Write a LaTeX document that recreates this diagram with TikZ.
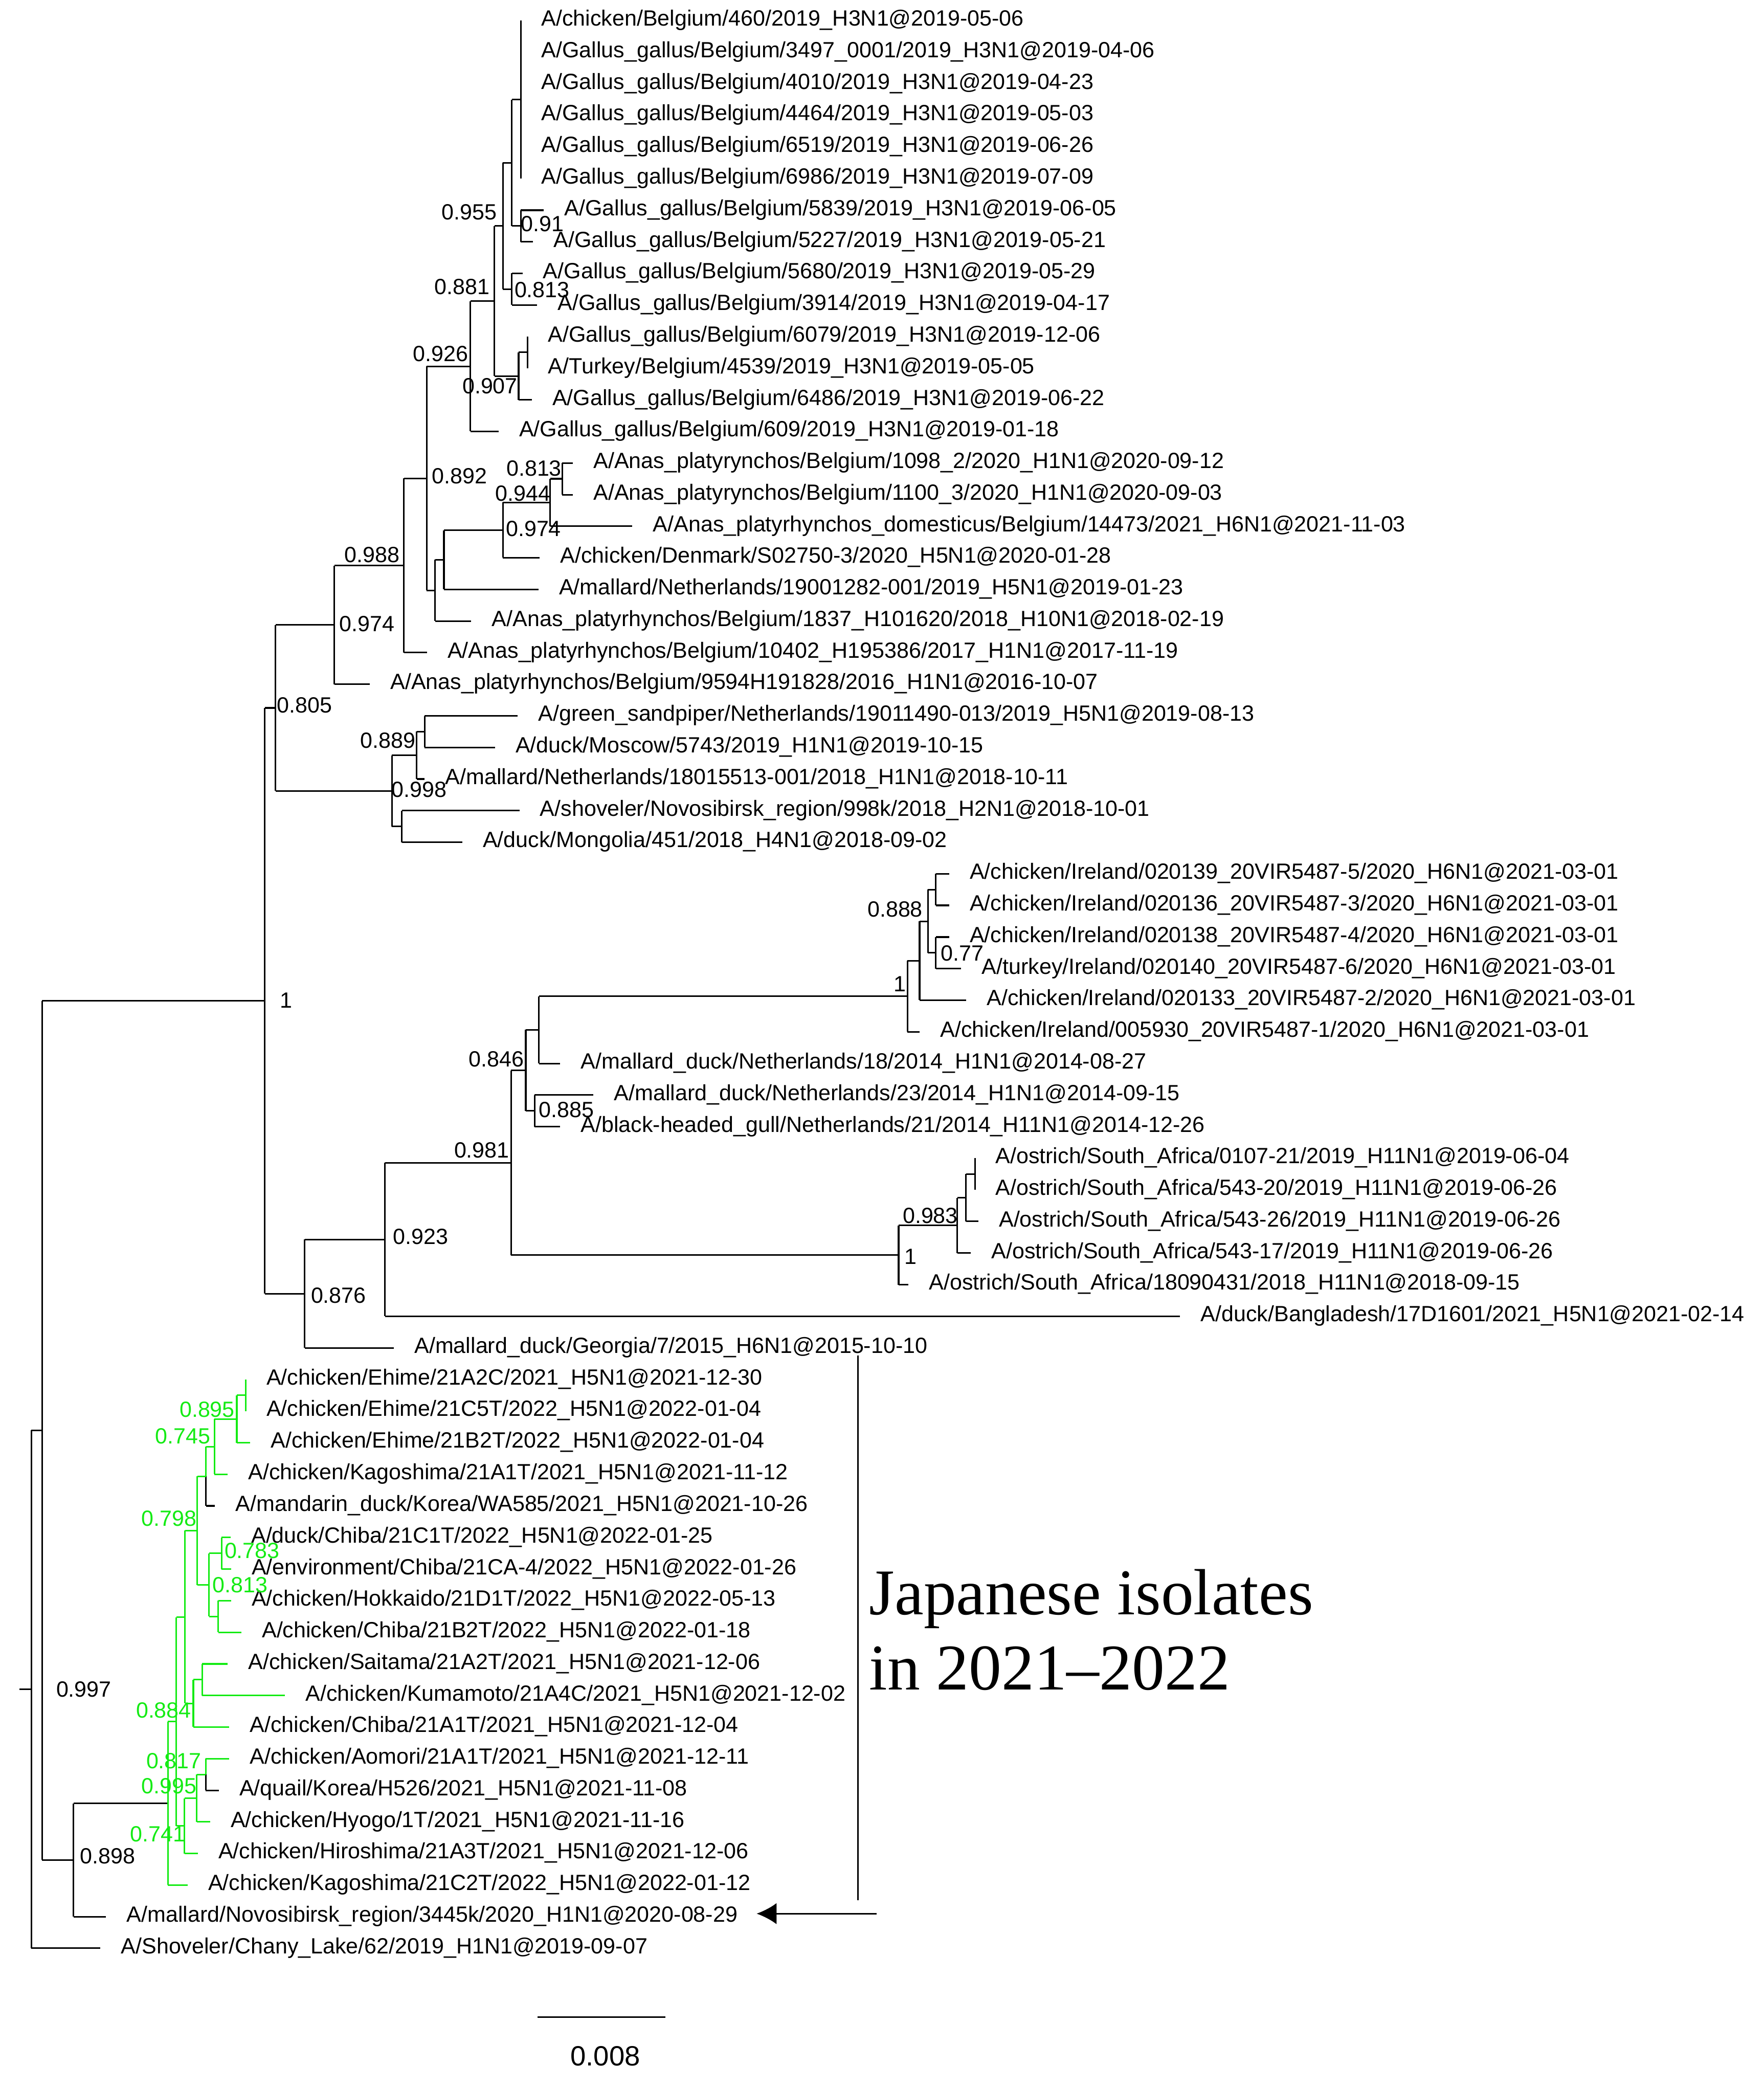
\documentclass[tikz,border=0pt]{standalone}
\usepackage{fontspec}
\setmainfont{Liberation Sans}
\newfontfamily\serifjp{Liberation Serif}
\usetikzlibrary{arrows.meta}
\definecolor{grn}{RGB}{20,235,20}
\newcommand\vbr[3]{\draw (#1,#2)--(#1,#3);}
\newcommand\hbr[3]{\draw (#2,#1)--(#3,#1);}
\newcommand\leaf[4]{\node[leaflab] (L#1) at ({#2+15},{#3+4}) {#4};}
\newcommand\blab[3]{\node[nlab] at (#1,#2) {#3};}
\tikzset{
  leaflab/.style={anchor=base west,inner sep=0pt,font=\fontsize{8.3}{10}\selectfont},
  nlab/.style={anchor=center,inner sep=0pt,font=\fontsize{8.3}{10}\selectfont},
}
\begin{document}
\begin{tikzpicture}[x=0.5pt,y=-0.5pt,line width=0.6pt]
\useasboundingbox (0,0) rectangle (1330,1576);
% black tree
\vbr{392.7}{15.5}{134.7}
\vbr{392.7}{158.5}{182.3} \hbr{158.5}{392.7}{410} \hbr{182.3}{392.7}{402}
\vbr{385.9}{75.1}{170.4} \hbr{75.1}{385.9}{392.7} \hbr{170.4}{385.9}{392.7}
\vbr{385.9}{206.1}{230} \hbr{206.1}{385.9}{394} \hbr{230}{385.9}{405}
\vbr{379.2}{122.8}{218} \hbr{122.8}{379.2}{385.9} \hbr{218}{379.2}{385.9}
\vbr{397.8}{253.8}{277.6}
\vbr{391.1}{265.7}{301.5} \hbr{265.7}{391.1}{397.8} \hbr{301.5}{391.1}{401}
\vbr{372.8}{170.4}{283.6} \hbr{170.4}{372.8}{379.2} \hbr{283.6}{372.8}{391.1}
\vbr{354.8}{227}{325.3} \hbr{227}{354.8}{372.8} \hbr{325.3}{354.8}{376}
\vbr{424}{349.1}{373} \hbr{349.1}{424}{432} \hbr{373}{424}{432}
\vbr{414.9}{361}{396.8} \hbr{361}{414.9}{424} \hbr{396.8}{414.9}{476.9}
\vbr{379.2}{378.9}{420.6} \hbr{378.9}{379.2}{414.9} \hbr{420.6}{379.2}{407}
\vbr{334.8}{399.8}{444.4} \hbr{399.8}{334.8}{379.2} \hbr{444.4}{334.8}{406}
\vbr{328.2}{422.1}{468.3} \hbr{422.1}{328.2}{334.8} \hbr{468.3}{328.2}{355.4}
\vbr{321.7}{276.2}{445.2} \hbr{276.2}{321.7}{354.8} \hbr{445.2}{321.7}{328.2}
\vbr{304.6}{360.7}{492.1} \hbr{360.7}{304.6}{321.7} \hbr{492.1}{304.6}{322}
\vbr{252.2}{426.4}{515.9} \hbr{426.4}{252.2}{304.6} \hbr{515.9}{252.2}{278.9}
\vbr{320.2}{539.8}{563.6} \hbr{539.8}{320.2}{390.5} \hbr{563.6}{320.2}{373.3}
\vbr{314.2}{551.7}{587.4} \hbr{551.7}{314.2}{320.2} \hbr{587.4}{314.2}{320.2}
\vbr{303}{611.3}{635.1} \hbr{611.3}{303}{391.7} \hbr{635.1}{303}{348.6}
\vbr{295.6}{569.6}{623.2} \hbr{569.6}{295.6}{314.2} \hbr{623.2}{295.6}{303}
\vbr{207.8}{471.2}{596.4} \hbr{471.2}{207.8}{252.2} \hbr{596.4}{207.8}{295.6}
\vbr{705.7}{658.9}{682.7} \hbr{658.9}{705.7}{715.7} \hbr{682.7}{705.7}{715.7}
\vbr{705.7}{706.6}{730.4} \hbr{706.6}{705.7}{715.7} \hbr{730.4}{705.7}{724.9}
\vbr{699.8}{670.8}{718.5} \hbr{670.8}{699.8}{705.7} \hbr{718.5}{699.8}{705.7}
\vbr{693.5}{694.7}{754.2} \hbr{694.7}{693.5}{699.8} \hbr{754.2}{693.5}{728.6}
\vbr{684.3}{724.5}{778.1} \hbr{724.5}{684.3}{693.5} \hbr{778.1}{684.3}{693.5}
\vbr{406.5}{751.3}{801.9} \hbr{751.3}{406.5}{684.3} \hbr{801.9}{406.5}{422.4}
\vbr{403.2}{825.7}{849.6} \hbr{825.7}{403.2}{447.5} \hbr{849.6}{403.2}{422.4}
\vbr{396.5}{776.6}{837.7} \hbr{776.6}{396.5}{406.5} \hbr{837.7}{396.5}{403.2}
\vbr{735.2}{873.4}{897.2}
\vbr{728.5}{885.3}{921} \hbr{885.3}{728.5}{735.2} \hbr{921}{728.5}{737.8}
\vbr{721.9}{903.2}{944.9} \hbr{903.2}{721.9}{728.5} \hbr{944.9}{721.9}{732.2}
\vbr{677.7}{924}{968.7} \hbr{924}{677.7}{721.9} \hbr{968.7}{677.7}{685}
\vbr{385.5}{807.2}{946.4} \hbr{807.2}{385.5}{396.5} \hbr{946.4}{385.5}{677.7}
\vbr{290.3}{876.8}{992.5} \hbr{876.8}{290.3}{385.5} \hbr{992.5}{290.3}{890}
\vbr{229.8}{934.7}{1016.4} \hbr{934.7}{229.8}{290.3} \hbr{1016.4}{229.8}{297}
\vbr{199.7}{533.8}{975.5} \hbr{533.8}{199.7}{207.8} \hbr{975.5}{199.7}{229.8}
\vbr{31.8}{754.7}{1402.6} \hbr{754.7}{31.8}{199.7} \hbr{1402.6}{31.8}{55.4}
\vbr{55.4}{1359.8}{1445.3} \hbr{1359.8}{55.4}{126.7} \hbr{1445.3}{55.4}{80}
\vbr{23.7}{1078.6}{1469.1} \hbr{1078.6}{23.7}{31.8} \hbr{1469.1}{23.7}{75.7} \hbr{1273.9}{14.6}{23.7}
% black pieces inside green clade
\vbr{155.4}{1113.2}{1135.5} \hbr{1135.5}{155.4}{162.1}
\vbr{155.1}{1338.1}{1350} \hbr{1350}{155.1}{165}
% green clade
\begin{scope}[draw=grn]
\vbr{185.4}{1040.2}{1064}
\vbr{178.6}{1052.1}{1087.9} \hbr{1052.1}{178.6}{185.4} \hbr{1087.9}{178.6}{188.6}
\vbr{161.8}{1070}{1111.7} \hbr{1070}{161.8}{178.6} \hbr{1111.7}{161.8}{171.7}
\vbr{155.4}{1090.9}{1113.2} \hbr{1090.9}{155.4}{161.8}
\vbr{167.2}{1159.3}{1183.2} \hbr{1159.3}{167.2}{173.9} \hbr{1183.2}{167.2}{174.2}
\vbr{164.6}{1207}{1230.8} \hbr{1207}{164.6}{174.2} \hbr{1230.8}{164.6}{182}
\vbr{157.7}{1171.3}{1218.9} \hbr{1171.3}{157.7}{167.2} \hbr{1218.9}{157.7}{164.6}
\vbr{148.8}{1113.2}{1195.1} \hbr{1113.2}{148.8}{155.4} \hbr{1195.1}{148.8}{157.7}
\vbr{152.5}{1254.7}{1278.5} \hbr{1254.7}{152.5}{171.7} \hbr{1278.5}{152.5}{214.9}
\vbr{145.8}{1266.6}{1302.3} \hbr{1266.6}{145.8}{152.5} \hbr{1302.3}{145.8}{172.9}
\vbr{139.5}{1154.2}{1284.5} \hbr{1154.2}{139.5}{148.8} \hbr{1284.5}{139.5}{145.8}
\vbr{155.1}{1326.1}{1338.1} \hbr{1326.1}{155.1}{172.9}
\vbr{148.4}{1338.1}{1373.8} \hbr{1338.1}{148.4}{155.1} \hbr{1373.8}{148.4}{158.4}
\vbr{139.2}{1356}{1397.6} \hbr{1356}{139.2}{148.4} \hbr{1397.6}{139.2}{149.1}
\vbr{132.9}{1219.4}{1376.8} \hbr{1219.4}{132.9}{139.5} \hbr{1376.8}{132.9}{139.2}
\vbr{126.7}{1298.1}{1421.5} \hbr{1298.1}{126.7}{132.9} \hbr{1421.5}{126.7}{141.4}
\end{scope}
% leaves
\leaf{0}{392.7}{15.5}{A/chicken/Belgium/460/2019\_H3N1@2019-05-06}
\leaf{1}{392.7}{39.3}{A/Gallus\_gallus/Belgium/3497\_0001/2019\_H3N1@2019-04-06}
\leaf{2}{392.7}{63.2}{A/Gallus\_gallus/Belgium/4010/2019\_H3N1@2019-04-23}
\leaf{3}{392.7}{87.0}{A/Gallus\_gallus/Belgium/4464/2019\_H3N1@2019-05-03}
\leaf{4}{392.7}{110.8}{A/Gallus\_gallus/Belgium/6519/2019\_H3N1@2019-06-26}
\leaf{5}{392.7}{134.7}{A/Gallus\_gallus/Belgium/6986/2019\_H3N1@2019-07-09}
\leaf{6}{410}{158.5}{A/Gallus\_gallus/Belgium/5839/2019\_H3N1@2019-06-05}
\leaf{7}{402}{182.3}{A/Gallus\_gallus/Belgium/5227/2019\_H3N1@2019-05-21}
\leaf{8}{394}{206.1}{A/Gallus\_gallus/Belgium/5680/2019\_H3N1@2019-05-29}
\leaf{9}{405}{230.0}{A/Gallus\_gallus/Belgium/3914/2019\_H3N1@2019-04-17}
\leaf{10}{397.8}{253.8}{A/Gallus\_gallus/Belgium/6079/2019\_H3N1@2019-12-06}
\leaf{11}{397.8}{277.6}{A/Turkey/Belgium/4539/2019\_H3N1@2019-05-05}
\leaf{12}{401}{301.5}{A/Gallus\_gallus/Belgium/6486/2019\_H3N1@2019-06-22}
\leaf{13}{376}{325.3}{A/Gallus\_gallus/Belgium/609/2019\_H3N1@2019-01-18}
\leaf{14}{432}{349.1}{A/Anas\_platyrynchos/Belgium/1098\_2/2020\_H1N1@2020-09-12}
\leaf{15}{432}{373.0}{A/Anas\_platyrynchos/Belgium/1100\_3/2020\_H1N1@2020-09-03}
\leaf{16}{476.9}{396.8}{A/Anas\_platyrhynchos\_domesticus/Belgium/14473/2021\_H6N1@2021-11-03}
\leaf{17}{407}{420.6}{A/chicken/Denmark/S02750-3/2020\_H5N1@2020-01-28}
\leaf{18}{406}{444.4}{A/mallard/Netherlands/19001282-001/2019\_H5N1@2019-01-23}
\leaf{19}{355.4}{468.3}{A/Anas\_platyrhynchos/Belgium/1837\_H101620/2018\_H10N1@2018-02-19}
\leaf{20}{322}{492.1}{A/Anas\_platyrhynchos/Belgium/10402\_H195386/2017\_H1N1@2017-11-19}
\leaf{21}{278.9}{515.9}{A/Anas\_platyrhynchos/Belgium/9594H191828/2016\_H1N1@2016-10-07}
\leaf{22}{390.5}{539.8}{A/green\_sandpiper/Netherlands/19011490-013/2019\_H5N1@2019-08-13}
\leaf{23}{373.3}{563.6}{A/duck/Moscow/5743/2019\_H1N1@2019-10-15}
\leaf{24}{320.2}{587.4}{A/mallard/Netherlands/18015513-001/2018\_H1N1@2018-10-11}
\leaf{25}{391.7}{611.3}{A/shoveler/Novosibirsk\_region/998k/2018\_H2N1@2018-10-01}
\leaf{26}{348.6}{635.1}{A/duck/Mongolia/451/2018\_H4N1@2018-09-02}
\leaf{27}{715.7}{658.9}{A/chicken/Ireland/020139\_20VIR5487-5/2020\_H6N1@2021-03-01}
\leaf{28}{715.7}{682.7}{A/chicken/Ireland/020136\_20VIR5487-3/2020\_H6N1@2021-03-01}
\leaf{29}{715.7}{706.6}{A/chicken/Ireland/020138\_20VIR5487-4/2020\_H6N1@2021-03-01}
\leaf{30}{724.9}{730.4}{A/turkey/Ireland/020140\_20VIR5487-6/2020\_H6N1@2021-03-01}
\leaf{31}{728.6}{754.2}{A/chicken/Ireland/020133\_20VIR5487-2/2020\_H6N1@2021-03-01}
\leaf{32}{693.5}{778.1}{A/chicken/Ireland/005930\_20VIR5487-1/2020\_H6N1@2021-03-01}
\leaf{33}{422.4}{801.9}{A/mallard\_duck/Netherlands/18/2014\_H1N1@2014-08-27}
\leaf{34}{447.5}{825.7}{A/mallard\_duck/Netherlands/23/2014\_H1N1@2014-09-15}
\leaf{35}{422.4}{849.6}{A/black-headed\_gull/Netherlands/21/2014\_H11N1@2014-12-26}
\leaf{36}{735.2}{873.4}{A/ostrich/South\_Africa/0107-21/2019\_H11N1@2019-06-04}
\leaf{37}{735.2}{897.2}{A/ostrich/South\_Africa/543-20/2019\_H11N1@2019-06-26}
\leaf{38}{737.8}{921.0}{A/ostrich/South\_Africa/543-26/2019\_H11N1@2019-06-26}
\leaf{39}{732.2}{944.9}{A/ostrich/South\_Africa/543-17/2019\_H11N1@2019-06-26}
\leaf{40}{685}{968.7}{A/ostrich/South\_Africa/18090431/2018\_H11N1@2018-09-15}
\leaf{41}{890}{992.5}{A/duck/Bangladesh/17D1601/2021\_H5N1@2021-02-14}
\leaf{42}{297}{1016.4}{A/mallard\_duck/Georgia/7/2015\_H6N1@2015-10-10}
\leaf{43}{185.4}{1040.2}{A/chicken/Ehime/21A2C/2021\_H5N1@2021-12-30}
\leaf{44}{185.4}{1064.0}{A/chicken/Ehime/21C5T/2022\_H5N1@2022-01-04}
\leaf{45}{188.6}{1087.9}{A/chicken/Ehime/21B2T/2022\_H5N1@2022-01-04}
\leaf{46}{171.7}{1111.7}{A/chicken/Kagoshima/21A1T/2021\_H5N1@2021-11-12}
\leaf{47}{162.1}{1135.5}{A/mandarin\_duck/Korea/WA585/2021\_H5N1@2021-10-26}
\leaf{48}{173.9}{1159.3}{A/duck/Chiba/21C1T/2022\_H5N1@2022-01-25}
\leaf{49}{174.2}{1183.2}{A/environment/Chiba/21CA-4/2022\_H5N1@2022-01-26}
\leaf{50}{174.2}{1207.0}{A/chicken/Hokkaido/21D1T/2022\_H5N1@2022-05-13}
\leaf{51}{182}{1230.8}{A/chicken/Chiba/21B2T/2022\_H5N1@2022-01-18}
\leaf{52}{171.7}{1254.7}{A/chicken/Saitama/21A2T/2021\_H5N1@2021-12-06}
\leaf{53}{214.9}{1278.5}{A/chicken/Kumamoto/21A4C/2021\_H5N1@2021-12-02}
\leaf{54}{172.9}{1302.3}{A/chicken/Chiba/21A1T/2021\_H5N1@2021-12-04}
\leaf{55}{172.9}{1326.1}{A/chicken/Aomori/21A1T/2021\_H5N1@2021-12-11}
\leaf{56}{165}{1350.0}{A/quail/Korea/H526/2021\_H5N1@2021-11-08}
\leaf{57}{158.4}{1373.8}{A/chicken/Hyogo/1T/2021\_H5N1@2021-11-16}
\leaf{58}{149.1}{1397.6}{A/chicken/Hiroshima/21A3T/2021\_H5N1@2021-12-06}
\leaf{59}{141.4}{1421.5}{A/chicken/Kagoshima/21C2T/2022\_H5N1@2022-01-12}
\leaf{60}{80}{1445.3}{A/mallard/Novosibirsk\_region/3445k/2020\_H1N1@2020-08-29}
\leaf{61}{75.7}{1469.1}{A/Shoveler/Chany\_Lake/62/2019\_H1N1@2019-09-07}
% node labels
\blab{354}{160}{0.955} \blab{409}{168.8}{0.91} \blab{348.6}{216.3}{0.881}
\blab{408.8}{218.7}{0.813} \blab{332.3}{266.9}{0.926} \blab{369.5}{291}{0.907}
\blab{346.5}{358.9}{0.892} \blab{402.7}{353}{0.813} \blab{394.3}{372}{0.944}
\blab{402.3}{398.5}{0.974} \blab{280.6}{418.2}{0.988} \blab{276.8}{470.6}{0.974}
\blab{229.6}{531.8}{0.805} \blab{292.5}{558.4}{0.889} \blab{316}{595.3}{0.998}
\blab{215.8}{754.3}{1} \blab{675}{685.5}{0.888} \blab{725.8}{718.7}{0.77}
\blab{678.8}{742}{1} \blab{374.4}{798.6}{0.846} \blab{427.2}{836.7}{0.885}
\blab{363.3}{867.4}{0.981} \blab{701.6}{916.6}{0.983} \blab{686.9}{947.4}{1}
\blab{317.2}{932.6}{0.923} \blab{255.3}{976.9}{0.876}
\blab{63.2}{1274}{0.997} \blab{81.3}{1399.5}{0.898}
\begin{scope}[every node/.append style={text=grn}]
\blab{156.2}{1063}{0.895} \blab{137.8}{1082.9}{0.745} \blab{127.4}{1145}{0.798}
\blab{190.1}{1169.4}{0.783} \blab{181.1}{1195.1}{0.813} \blab{123.4}{1289.8}{0.884}
\blab{131.1}{1327.7}{0.817} \blab{127.4}{1346.6}{0.995} \blab{119}{1383.1}{0.741}
\end{scope}
% Japanese isolates annotation
\coordinate (bt) at (647,1022);
\coordinate (bb) at (647,1432.7);
\draw (bt)--(bb);
\coordinate (as) at (661,1443);
\coordinate (ae) at (570.6,1443);
\draw[-{Latex[length=7.5pt,width=8pt]}] (as)--(ae);
\node[anchor=west,inner sep=0pt,font=\serifjp\fontsize{24.6}{28.5}\selectfont,align=left] (jp) at (655,1229) {Japanese isolates\\in 2021–2022};
% scale bar
\coordinate (s1) at (405.4,1521);
\coordinate (s2) at (501.7,1521);
\draw (s1)--(s2);
\node[nlab,font=\fontsize{10.5}{12}\selectfont] (sl) at (456.5,1550.4) {0.008};
\end{tikzpicture}
\end{document}
